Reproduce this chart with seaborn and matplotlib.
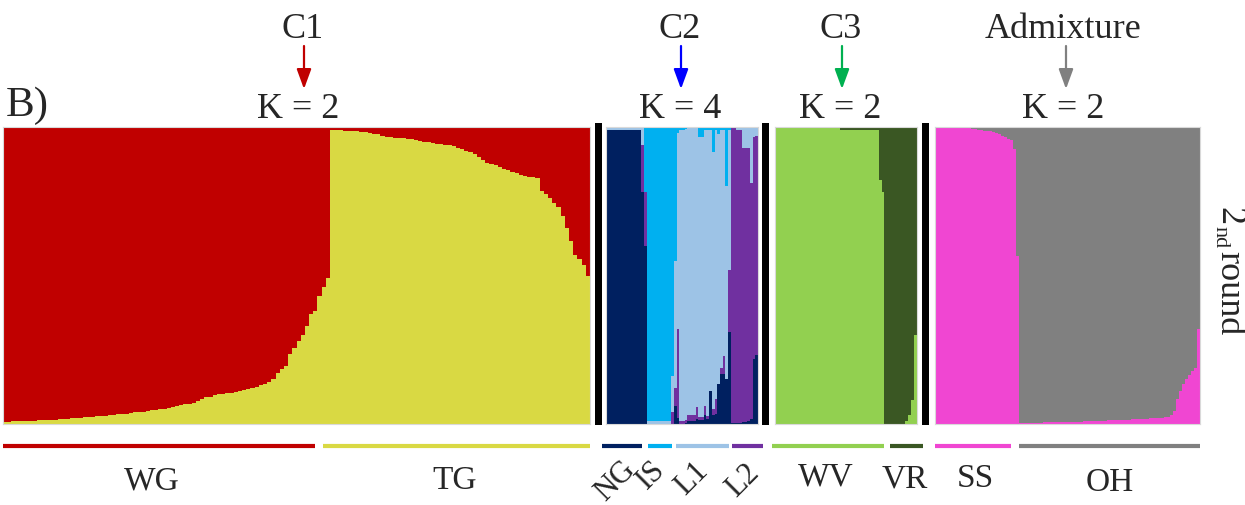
import numpy as np
import matplotlib
matplotlib.use("Agg")
import matplotlib.pyplot as plt
import seaborn as sns
from matplotlib.patches import Rectangle
from matplotlib.lines import Line2D

sns.set_theme(style="white")
plt.rcParams['font.family'] = ['Liberation Serif', 'DejaVu Serif']

# ---- C1 (K = 2): share of the yellow cluster per individual
wg_yellow = [0.008, 0.008, 0.009, 0.009, 0.010, 0.010, 0.011, 0.011, 0.012, 0.012,
             0.013, 0.014, 0.015, 0.016, 0.017, 0.018, 0.019, 0.020, 0.021, 0.022,
             0.024, 0.025, 0.026, 0.027, 0.028, 0.030, 0.031, 0.032, 0.033, 0.035,
             0.037, 0.039, 0.040, 0.042, 0.044, 0.046, 0.047, 0.049, 0.051, 0.054,
             0.057, 0.060, 0.063, 0.066, 0.068, 0.070, 0.076, 0.085, 0.090, 0.092,
             0.096, 0.100, 0.102, 0.104, 0.106, 0.108, 0.110, 0.113, 0.118, 0.120,
             0.125, 0.130, 0.135, 0.142, 0.152, 0.172, 0.185, 0.195, 0.235, 0.255,
             0.280, 0.300, 0.330, 0.370, 0.380, 0.430, 0.460, 0.490]
tg_yellow = [0.990, 0.990, 0.989, 0.988, 0.987, 0.986, 0.985, 0.984, 0.983, 0.980,
             0.978, 0.975, 0.970, 0.966, 0.965, 0.964, 0.963, 0.962, 0.960, 0.958,
             0.955, 0.953, 0.950, 0.948, 0.946, 0.944, 0.942, 0.940, 0.938, 0.935,
             0.930, 0.925, 0.920, 0.915, 0.910, 0.900, 0.890, 0.880, 0.876, 0.872,
             0.866, 0.860, 0.855, 0.850, 0.845, 0.840, 0.835, 0.832, 0.830, 0.828,
             0.785, 0.775, 0.760, 0.745, 0.730, 0.700, 0.660, 0.615, 0.570, 0.555,
             0.535, 0.500]

# ---- C2 (K = 4): navy, purple, light blue (cyan fills the rest)
c2_navy = [0.99] * 13 + [0.78, 0.60] + [0.0] * 9 + [0.0, 0.06, 0.02] + \
          [0.000, 0.000, 0.005, 0.010, 0.010, 0.010, 0.017, 0.012, 0.012, 0.030,
           0.017, 0.110, 0.030, 0.034, 0.136, 0.170, 0.170, 0.153, 0.310] + \
          [0.005, 0.005, 0.005, 0.005, 0.007, 0.007, 0.010, 0.017, 0.220, 0.233]
c2_purple = [0.0] * 13 + [0.16, 0.18] + [0.0] * 9 + [0.04, 0.06, 0.30] + \
            [0.010, 0.010, 0.010, 0.020, 0.020, 0.020, 0.040, 0.010, 0.010, 0.030,
             0.010, 0.000, 0.020, 0.050, 0.000, 0.020, 0.060, 0.000, 0.207] + \
            [0.990, 0.990, 0.985, 0.985, 0.923, 0.923, 0.920, 0.793, 0.745, 0.737]
c2_lightblue = [0.01] * 13 + [0.06, 0.0] + [0.01] * 9 + [0.12, 0.43, 0.66] + \
               [0.980, 0.980, 0.977, 0.965, 0.965, 0.965, 0.938, 0.943, 0.943, 0.930,
                0.963, 0.880, 0.865, 0.906, 0.839, 0.800, 0.760, 0.647, 0.473] + \
               [0.005, 0.005, 0.010, 0.010, 0.070, 0.070, 0.070, 0.190, 0.035, 0.030]

# ---- C3 (K = 2): share of the light green cluster
wv_green = [1.0] * 22 + [0.99] * 13 + [0.82, 0.78]
vr_green = [0.0] * 7 + [0.01, 0.03, 0.08, 0.30]

# ---- Admixture (K = 2): share of the magenta cluster
ss_magenta = [0.995] * 12 + [0.993, 0.992, 0.990, 0.989, 0.988, 0.986, 0.985, 0.983, 0.980,
                             0.975, 0.970, 0.965, 0.960, 0.955, 0.925, 0.565]
oh_magenta = [0.004, 0.004, 0.004, 0.005, 0.005, 0.005, 0.005, 0.005, 0.006, 0.006,
              0.006, 0.006, 0.006, 0.007, 0.007, 0.007, 0.007, 0.008, 0.008, 0.008,
              0.008, 0.009, 0.009, 0.009, 0.010, 0.010, 0.010, 0.011, 0.011, 0.012,
              0.012, 0.013, 0.013, 0.014, 0.014, 0.015, 0.015, 0.016, 0.016, 0.017,
              0.017, 0.018, 0.018, 0.019, 0.019, 0.020, 0.020, 0.021, 0.022, 0.023,
              0.030, 0.045, 0.085, 0.110, 0.135, 0.150, 0.165, 0.180, 0.190, 0.320]

groups = ["WG", "TG", "NG", "IS", "L1", "L2", "WV", "VR", "SS", "OH"]

RED, YELLOW = "#C00000", "#D9D943"
NAVY, CYAN, LBLUE, PURPLE = "#002060", "#00B0F0", "#9DC3E6", "#7030A0"
LGREEN, DGREEN = "#92D050", "#3A5723"
MAGENTA, GRAY = "#F046D2", "#808080"

W, H = 1245, 506
fig = plt.figure(figsize=(W / 100, H / 100), dpi=100)


def fx(x):
    return x / W


def fy(y):
    return 1 - y / H


def add_panel(x0, x1, y0=128, y1=425):
    return fig.add_axes([fx(x0), fy(y1), fx(x1 - x0), (y1 - y0) / H])


# draw stacked bars by overplotting cumulative heights, tallest first
def draw_structure(ax, tops, colors):
    n = len(tops[0])
    idx = np.arange(n)
    for h, c in zip(tops, colors):
        sns.barplot(x=idx, y=h, color=c, width=1, saturation=1, errorbar=None,
                    linewidth=0, antialiased=False, ax=ax)
    ax.set_xlim(-0.5, n - 0.5)
    ax.set_ylim(0, 1)
    ax.set_xticks([])
    ax.set_yticks([])
    ax.set_xlabel("")
    ax.set_ylabel("")
    for s in ax.spines.values():
        s.set_color("#d9d9d9")
        s.set_linewidth(0.8)


ax1 = add_panel(3, 590)
yellow = np.array(wg_yellow + tg_yellow)
draw_structure(ax1, [np.ones(len(yellow)), yellow], [RED, YELLOW])

ax2 = add_panel(606, 758)
navy = np.array(c2_navy)
cum_p = navy + np.array(c2_purple)
cum_l = cum_p + np.array(c2_lightblue)
draw_structure(ax2, [np.ones(len(navy)), cum_l, cum_p, navy], [CYAN, LBLUE, PURPLE, NAVY])

ax3 = add_panel(775, 917)
green = np.array(wv_green + vr_green)
draw_structure(ax3, [np.ones(len(green)), green], [DGREEN, LGREEN])

ax4 = add_panel(935, 1200)
mag = np.array(ss_magenta + oh_magenta)
draw_structure(ax4, [np.ones(len(mag)), mag], [GRAY, MAGENTA])

# black separators
for x0 in [595, 762, 922]:
    fig.add_artist(Rectangle((fx(x0), fy(426)), fx(7), 302 / H,
                             transform=fig.transFigure, color="black", lw=0))

# titles, arrows, K labels
tsize = 26
heads = [("C1", 304, 303, RED, "K = 2", 298), ("C2", 681, 680, "#0000FF", "K = 4", 680),
         ("C3", 842, 841, "#00B050", "K = 2", 840),
         ("Admixture", 1066, 1063, GRAY, "K = 2", 1063)]
for name, xa, xt, col, ktxt, xk in heads:
    fig.text(fx(xt), fy(29), name, ha="center", va="center", fontsize=tsize)
    ax1.annotate("", xy=(xa, H - 90), xytext=(xa, H - 47), xycoords="figure pixels",
                 textcoords="figure pixels",
                 arrowprops=dict(arrowstyle="-|>,head_length=0.6,head_width=0.22",
                                 color=col, lw=1.6, mutation_scale=20,
                                 shrinkA=0, shrinkB=0))
    fig.text(fx(xk), fy(109), ktxt, ha="center", va="center", fontsize=tsize)

fig.text(fx(6), fy(106), "B)", ha="left", va="center", fontsize=31)

# "2nd round" written top to bottom
fig.text(fx(1229), fy(216), "2", ha="center", va="center", rotation=-90, fontsize=tsize)
fig.text(fx(1220), fy(237), "nd", ha="center", va="center", rotation=-90, fontsize=16)
fig.text(fx(1229), fy(293), "round", ha="center", va="center", rotation=-90, fontsize=tsize)

# group underlines and labels
spans = [(3, 315), (323, 590), (602, 642), (648, 672), (676, 729), (732, 763),
         (772, 884), (890, 923), (935, 1011), (1019, 1200)]
line_cols = [RED, YELLOW, NAVY, CYAN, LBLUE, PURPLE, LGREEN, DGREEN, MAGENTA, GRAY]
for (a, b), c in zip(spans, line_cols):
    fig.add_artist(Line2D([fx(a), fx(b)], [fy(447), fy(447)], color=c, lw=3,
                          solid_capstyle="butt", transform=fig.transFigure))

label_pos = [(152, 481, 0, 24), (455, 481, 0, 24), (615, 481, 45, 22), (651, 475, 45, 22),
             (692, 479, 45, 22), (743, 481, 45, 22), (826, 477, 0, 24), (905, 479, 0, 24),
             (975, 479, 0, 24), (1110, 483, 0, 24)]
for g, (x, y, r, s) in zip(groups, label_pos):
    fig.text(fx(x), fy(y), g, ha="center", va="center", rotation=r, fontsize=s)

fig.savefig("out.png", dpi=100)
